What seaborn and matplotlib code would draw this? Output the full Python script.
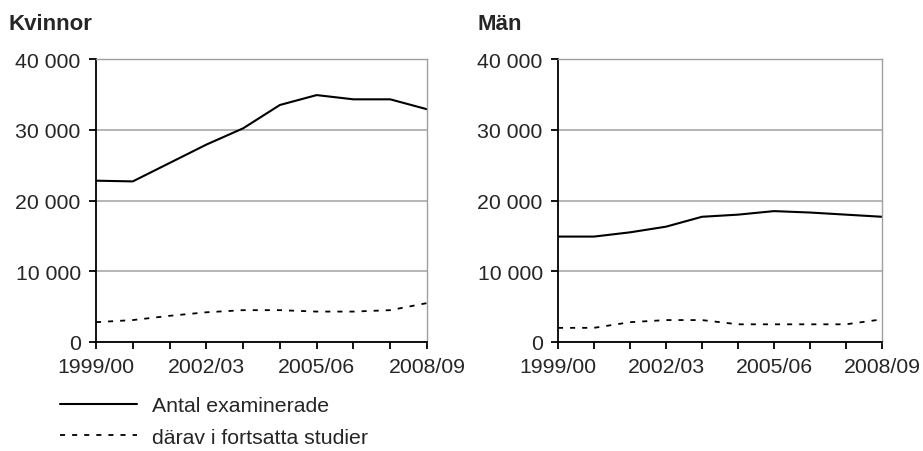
import numpy as np
import pandas as pd
import seaborn as sns
import matplotlib.pyplot as plt
from matplotlib.lines import Line2D

# Läsår (x-axis categories)
years = ['1999/00', '2000/01', '2001/02', '2002/03', '2003/04',
         '2004/05', '2005/06', '2006/07', '2007/08', '2008/09']

# Kvinnor
kv_exam = [22800, 22700, 25300, 27900, 30200, 33500, 34900, 34300, 34300, 32900]
kv_fort = [2800, 3100, 3700, 4200, 4500, 4500, 4300, 4300, 4500, 5500]

# Män
man_exam = [14900, 14900, 15500, 16300, 17700, 18000, 18500, 18300, 18000, 17700]
man_fort = [2000, 2000, 2800, 3100, 3100, 2500, 2500, 2500, 2500, 3200]

sns.set_style('white')
plt.rcParams['font.family'] = ['Liberation Sans', 'DejaVu Sans']

fs = 15.3

fig = plt.figure(figsize=(9.23, 4.52), dpi=100)
ax1 = fig.add_axes([96 / 923, 1 - 343 / 452, (427 - 96) / 923, 283 / 452])
ax2 = fig.add_axes([558 / 923, 1 - 343 / 452, (882 - 558) / 923, 283 / 452])

dotted = (0, (2.8, 3.9))

for ax, exam, fort in [(ax1, kv_exam, kv_fort), (ax2, man_exam, man_fort)]:
    df = pd.DataFrame({'x': np.arange(len(years)), 'exam': exam, 'fort': fort})
    sns.lineplot(data=df, x='x', y='exam', ax=ax, color='black', lw=1.5)
    sns.lineplot(data=df, x='x', y='fort', ax=ax, color='black', lw=1.3, linestyle=dotted)
    ax.set_xlim(0, len(years) - 1)
    ax.set_ylim(0, 40000)
    ax.set_yticks([0, 10000, 20000, 30000, 40000])
    ax.set_yticklabels(['0', '10 000', '20 000', '30 000', '40 000'], fontsize=fs)
    ax.set_xticks(np.arange(len(years)))
    ax.set_xticklabels([y if i % 3 == 0 else '' for i, y in enumerate(years)], fontsize=fs)
    ax.set_xlabel('')
    ax.set_ylabel('')
    ax.grid(axis='y', color='#a0a0a0', lw=1.1)
    ax.set_axisbelow(True)
    for s in ['top', 'right']:
        ax.spines[s].set_color('#a0a0a0')
        ax.spines[s].set_linewidth(1.0)
    for s in ['left', 'bottom']:
        ax.spines[s].set_color('black')
        ax.spines[s].set_linewidth(1.3)
    ax.tick_params(axis='both', direction='out', length=5, width=1.3, color='black',
                   left=True, bottom=True)
    ax.tick_params(axis='y', pad=6)
    ax.tick_params(axis='x', pad=6)

fig.text(8 / 923, 1 - 30 / 452, 'Kvinnor', fontsize=16, fontweight='bold', va='baseline')
fig.text(477 / 923, 1 - 30 / 452, 'Män', fontsize=16, fontweight='bold', va='baseline')

handles = [Line2D([], [], color='black', lw=1.5),
           Line2D([], [], color='black', lw=1.3, linestyle=dotted)]
fig.legend(handles, ['Antal examinerade', 'därav i fortsatta studier'],
           loc='upper left', bbox_to_anchor=(51.5 / 923, 1 - 388.5 / 452),
           frameon=False, fontsize=fs, handlelength=3.6, handletextpad=0.75,
           labelspacing=0.6, borderaxespad=0)

fig.savefig('out.png', dpi=100)
